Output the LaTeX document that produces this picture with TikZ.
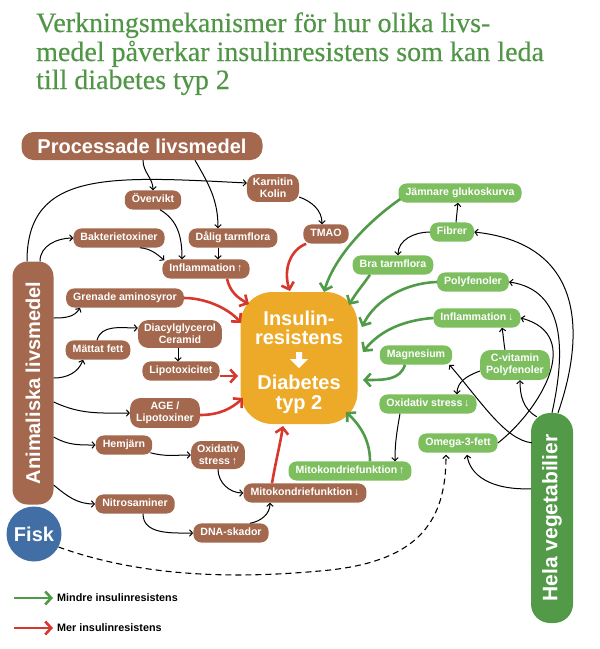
\documentclass[tikz,border=0pt]{standalone}
\usepackage{fontspec}
\usepackage{graphicx}
\setmainfont{Liberation Serif}
\setsansfont{Liberation Sans}
\newfontfamily\titleserif[FakeBold=0.35]{Liberation Serif}
\usetikzlibrary{arrows.meta,calc}
\definecolor{brownc}{RGB}{163,104,77}
\definecolor{lgreen}{RGB}{125,190,95}
\definecolor{dgreen}{RGB}{82,153,72}
\definecolor{agreen}{RGB}{80,155,72}
\definecolor{ared}{RGB}{215,55,45}
\definecolor{orangec}{RGB}{236,170,40}
\definecolor{fiskblue}{RGB}{64,110,165}
\definecolor{titlegreen}{RGB}{80,150,70}
\tikzset{
  nodefont/.style={font=\sffamily\bfseries\fontsize{10.6}{12}\selectfont},
  bn/.style={nodefont, fill=brownc, text=white, rounded corners=8pt, inner xsep=7pt, inner ysep=4.5pt, text height=7.8pt, text depth=2.3pt},
  bntwo/.style={nodefont, fill=brownc, text=white, rounded corners=10pt, inner xsep=6pt, inner ysep=4pt, align=center},
  gn/.style={bn, fill=lgreen},
  gntwo/.style={bntwo, fill=lgreen},
  bignode/.style={fill=brownc, text=white, font=\sffamily\bfseries\fontsize{20}{20}\selectfont, inner sep=0pt},
  blk/.style={draw=black, line width=1pt, -{Straight Barb[length=3pt,width=6.5pt]}},
  grn/.style={draw=agreen, line width=2.6pt, -{Straight Barb[length=6pt,width=13pt]}},
  rd/.style={draw=ared, line width=2.6pt, -{Straight Barb[length=6pt,width=13pt]}},
  titlefont/.style={font=\titleserif\fontsize{28}{29}\selectfont, text=titlegreen, inner sep=0pt, anchor=base west},
  legtext/.style={font=\sffamily\bfseries\fontsize{10.8}{12}\selectfont, text=black, inner sep=0pt, anchor=west},
}
\begin{document}
\begin{tikzpicture}[x=1pt,y=-1pt]
\useasboundingbox (0,0) rectangle (600,649);
% title
\node[titlefont] (t1) at (36,32) {Verkningsmekanismer för hur olika livs-};
\node[titlefont] (t2) at (36,61) {medel påverkar insulinresistens som kan leda};
\node[titlefont] (t3) at (36,89) {till diabetes typ 2};

% big source nodes
\node[bignode, rounded corners=12pt, minimum width=241pt, minimum height=28pt] (proc) at (142,146) {Processade livsmedel};
\node[bignode, rounded corners=15pt, minimum width=41pt, minimum height=243pt] (anim) at (33,383) {\rotatebox{90}{Animaliska livsmedel}};
\node[bignode, fill=fiskblue, circle, minimum size=55pt] (fisk) at (34,534) {Fisk};
\node[bignode, fill=dgreen, rounded corners=19pt, minimum width=42pt, minimum height=210pt, font=\sffamily\bfseries\fontsize{21}{21}\selectfont] (hela) at (552,518) {\rotatebox{90}{Hela vegetabilier}};

% center
\node[fill=orangec, rounded corners=32pt, minimum width=117pt, minimum height=132pt, inner sep=0pt] (ir) at (299,358) {};
\node[text=white, font=\sffamily\bfseries\fontsize{20}{19.5}\selectfont, align=center, inner sep=0pt] (irlabel) at (299,362) {Insulin-\\resistens\\[25.5pt]Diabetes\\typ 2};
\fill[white] (296,352) -- (302,352) -- (302,359) -- (308,359) -- (299,368) -- (290,359) -- (296,359) -- cycle;

% brown nodes
\node[bntwo] (karn) at (273,188) {Karnitin\\Kolin};
\node[bn] (over) at (153,200) {Övervikt};
\node[bn] (bakt) at (119,238) {Bakterietoxiner};
\node[bn] (dalig) at (233,238) {Dålig tarmflora};
\node[bn] (tmao) at (326,234) {TMAO};
\node[bn] (infl) at (206,269) {Inflammation\,↑};
\node[bn] (gren) at (125,298) {Grenade aminosyror};
\node[bntwo] (dag) at (180,334) {Diacylglycerol\\Ceramid};
\node[bn] (matt) at (98,350) {Mättat fett};
\node[bn] (lipo) at (181,371) {Lipotoxicitet};
\node[bntwo] (age) at (165,413) {AGE /\\Lipotoxiner};
\node[bn] (hem) at (124,445) {Hemjärn};
\node[bntwo] (oxu) at (218,455) {Oxidativ\\stress\,↑};
\node[bn] (mitd) at (305,493) {Mitokondriefunktion\,↓};
\node[bn] (nitro) at (135,504) {Nitrosaminer};
\node[bn] (dna) at (231,533) {DNA-skador};

% green nodes
\node[gn] (jamn) at (460,193) {Jämnare glukoskurva};
\node[gn] (fib) at (452,232) {Fibrer};
\node[gn] (bra) at (393,265) {Bra tarmflora};
\node[gn] (poly) at (473,282) {Polyfenoler};
\node[gn] (infd) at (477,318) {Inflammation\,↓};
\node[gn] (mag) at (416,355) {Magnesium};
\node[gntwo] (cvit) at (515,365) {C-vitamin\\Polyfenoler};
\node[gn] (oxd) at (428,404) {Oxidativ stress\,↓};
\node[gn] (omega) at (458,443) {Omega-3-fett};
\node[gn] (mitu) at (350,471) {Mitokondriefunktion\,↑};

% black connectors
\draw[blk] ($(proc.south)+(1,0)$) to[out=-90,in=90] (over.north);
\draw[blk] ($(proc.south)+(53,0)$) to[out=-60,in=90] ($(dalig.north)+(-15,0)$);
\draw[blk] ($(anim.north)+(-6,0)$) .. controls (27,170) and (110,176) .. ($(karn.west)+(0,-5)$);
\draw[blk] ($(anim.north)+(7,0)$) to[out=90,in=180] (bakt.west);
\draw[blk] ($(bakt.south)+(21,0)$) to[out=-5,in=140] ($(infl.north west)+(2,1)$);
\draw[blk] ($(over.south)+(7,0)$) to[out=-30,in=90] ($(infl.north)+(-24,0)$);
\draw[blk] ($(dalig.south)+(-15,0)$) -- ($(infl.north)+(12,0)$);
\draw[blk] ($(karn.east)+(0,9)$) to[out=-20,in=90] ($(tmao.north)+(-4,0)$);
\draw[blk] ($(anim.east)+(0,-65)$) to[out=0,in=-120] ($(gren.south)+(-45,0)$);
\draw[blk] ($(anim.east)+(0,-5)$) to[out=0,in=-110] ($(matt.south)+(-15,0)$);
\draw[blk] ($(matt.north)+(-1,0)$) to[out=75,in=180] ($(dag.west)+(0,-6)$);
\draw[blk] ($(dag.south)+(-2,0)$) -- ($(lipo.north)+(-3,0)$);
\draw[blk] ($(anim.east)+(0,19)$) to[out=-25,in=180] (age.west);
\draw[blk] ($(anim.east)+(0,54)$) to[out=-30,in=180] (hem.west);
\draw[blk] ($(hem.south east)+(-2,-2)$) to[out=-15,in=180] (oxu.west);
\draw[blk] (oxu.south) to[out=-90,in=180] (mitd.west);
\draw[blk] ($(anim.east)+(0,102)$) to[out=-40,in=180] (nitro.west);
\draw[blk] ($(nitro.south)+(8,0)$) to[out=-90,in=180] (dna.west);
\draw[blk] ($(dna.north)+(19,0)$) to[out=10,in=-90] ($(mitd.south)+(-35,0)$);
\draw[blk, dashed, dash pattern=on 6pt off 4pt, line width=1.1pt] (fisk.-28) .. controls (150,580) and (250,578) .. (330,570) .. controls (420,560) and (446,520) .. ($(omega.south)+(-12,2)$);

% from Hela vegetabilier
\draw[blk] ($(hela.north)+(6,0)$) .. controls (580,350) and (595,245) .. (fib.east);
\draw[blk] ($(hela.north)+(0,0)$) .. controls (566,350) and (565,290) .. (poly.east);
\draw[blk] (omega.east) .. controls (540,410) and (585,335) .. (infd.east);
\draw[blk] ($(cvit.north)+(-10,0)$) to[out=100,in=-80] ($(infd.south)+(25,0)$);
\draw[blk] ($(cvit.west)+(0,6)$) to[out=-160,in=90] ($(oxd.north)+(29,0)$);
\draw[blk] ($(hela.north west)+(1,30)$) .. controls (505,440) and (480,400) .. ($(mag.south east)+(-3,0)$);
\draw[blk] ($(hela.north west)+(6,4)$) to[out=150,in=-90] ($(cvit.south)+(5,0)$);
\draw[blk] ($(hela.north west)+(0,76)$) .. controls (490,490) and (470,475) .. ($(omega.south)+(9,2)$);
\draw[blk] ($(fib.north)+(4,0)$) -- ($(jamn.south)+(-2,0)$);
\draw[blk] (fib.west) to[out=180,in=90] ($(bra.north)+(5,0)$);
\draw[blk] ($(oxd.south)+(-28,0)$) to[out=-100,in=90] ($(mitu.north)+(45,0)$);

% green arrows
\draw[grn] ($(jamn.west)+(2,6)$) .. controls (370,220) and (335,255) .. (324,292);
\draw[grn] ($(bra.south)+(-23,0)$) to[out=-125,in=60] (349,305);
\draw[grn] (poly.west) .. controls (405,283) and (375,300) .. (362,327);
\draw[grn] (infd.west) .. controls (405,320) and (380,330) .. (363,352);
\draw[grn] ($(mag.south)+(-11,0)$) .. controls (400,380) and (385,380) .. (363,380);
\draw[grn] ($(mitu.north)+(20,0)$) .. controls (370,440) and (360,425) .. (346,412);

% red arrows
\draw[rd] ($(tmao.south west)+(3,0)$) .. controls (290,250) and (283,270) .. (290,291);
\draw[rd] ($(infl.south)+(21,0)$) .. controls (230,292) and (238,298) .. (249,304);
\draw[rd] (gren.east) .. controls (205,298) and (228,308) .. (241,323);
\draw[rd] ($(lipo.east)+(0,5)$) -- (238,376);
\draw[rd] ($(age.east)+(0,2)$) .. controls (220,415) and (232,408) .. (243,398);
\draw[rd] ($(mitd.north)+(-33,0)$) .. controls (276,460) and (280,445) .. (283,426);

% legend
\coordinate (lg1) at (14,598);
\coordinate (lg2) at (53,598);
\coordinate (lr1) at (14,628);
\coordinate (lr2) at (53,628);
\draw[grn] (lg1) -- (lg2);
\draw[rd] (lr1) -- (lr2);
\node[legtext] (lgt) at (57,598) {Mindre insulinresistens};
\node[legtext] (lrt) at (57,628) {Mer insulinresistens};
\end{tikzpicture}
\end{document}
